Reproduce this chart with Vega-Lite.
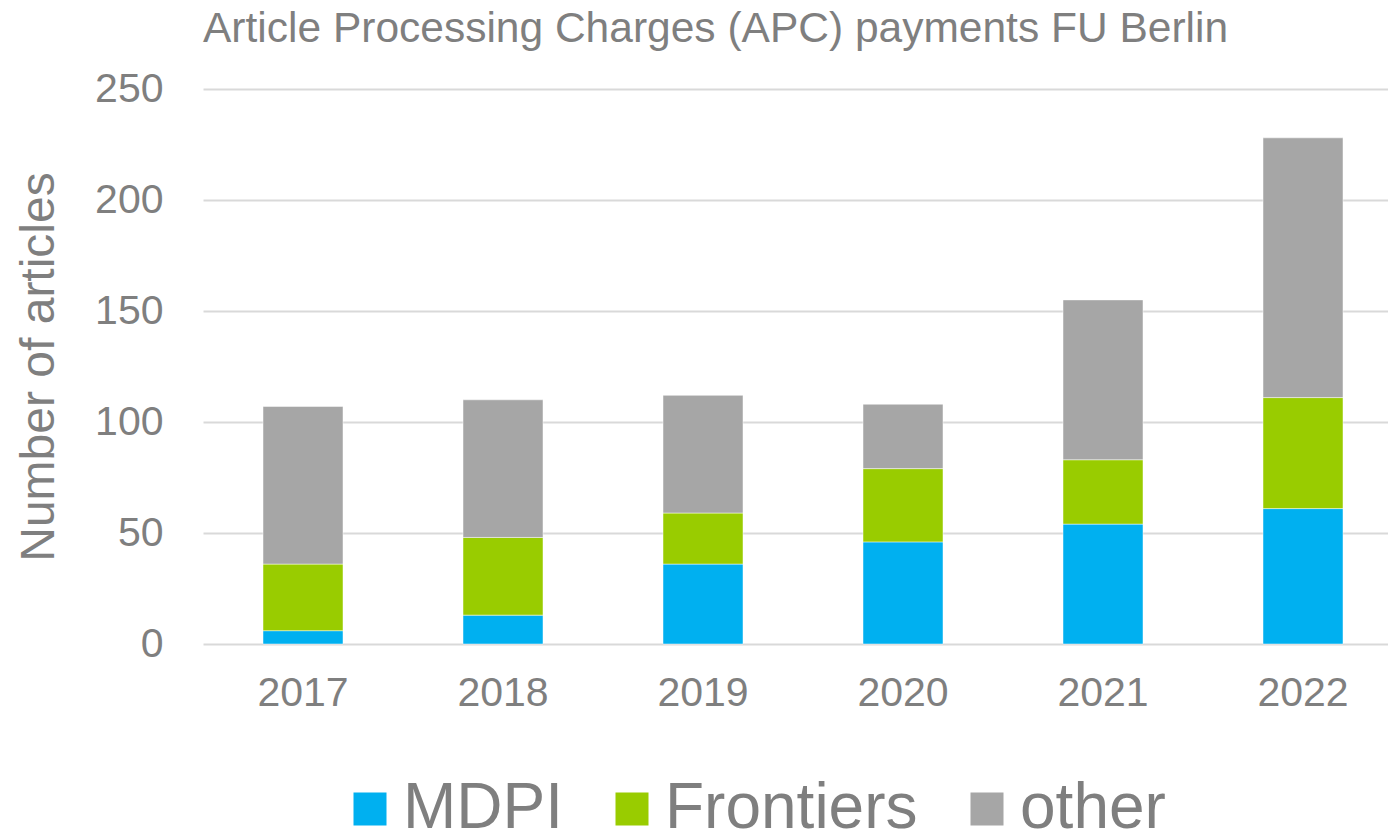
{
  "$schema": "https://vega.github.io/schema/vega-lite/v6.json",
  "autosize": {"type": "none"},
  "padding": {"left": 203, "top": 89, "right": 0, "bottom": 189},
  "width": 1185,
  "height": 555,
  "background": "#ffffff",
  "title": {
    "text": "Article Processing Charges (APC) payments FU Berlin",
    "anchor": "start",
    "frame": "group",
    "offset": 18,
    "font": "Liberation Sans",
    "fontSize": 42.5,
    "fontWeight": "normal",
    "color": "#7f7f7f"
  },
  "data": {
    "values": [
      {"year": "2017", "publisher": "MDPI", "order": 1, "articles": 6},
      {"year": "2017", "publisher": "Frontiers", "order": 2, "articles": 30},
      {"year": "2017", "publisher": "other", "order": 3, "articles": 71},
      {"year": "2018", "publisher": "MDPI", "order": 1, "articles": 13},
      {"year": "2018", "publisher": "Frontiers", "order": 2, "articles": 35},
      {"year": "2018", "publisher": "other", "order": 3, "articles": 62},
      {"year": "2019", "publisher": "MDPI", "order": 1, "articles": 36},
      {"year": "2019", "publisher": "Frontiers", "order": 2, "articles": 23},
      {"year": "2019", "publisher": "other", "order": 3, "articles": 53},
      {"year": "2020", "publisher": "MDPI", "order": 1, "articles": 46},
      {"year": "2020", "publisher": "Frontiers", "order": 2, "articles": 33},
      {"year": "2020", "publisher": "other", "order": 3, "articles": 29},
      {"year": "2021", "publisher": "MDPI", "order": 1, "articles": 54},
      {"year": "2021", "publisher": "Frontiers", "order": 2, "articles": 29},
      {"year": "2021", "publisher": "other", "order": 3, "articles": 72},
      {"year": "2022", "publisher": "MDPI", "order": 1, "articles": 61},
      {"year": "2022", "publisher": "Frontiers", "order": 2, "articles": 50},
      {"year": "2022", "publisher": "other", "order": 3, "articles": 117}
    ]
  },
  "mark": {"type": "bar", "stroke": "#ffffff", "strokeWidth": 0.8, "strokeOpacity": 0.6},
  "encoding": {
    "x": {
      "field": "year",
      "type": "nominal",
      "scale": {"range": [0, 1200], "paddingInner": 0.6, "paddingOuter": 0.3},
      "axis": {
        "title": null,
        "labelAngle": 0,
        "domain": false,
        "ticks": false,
        "labelPadding": 29,
        "labelFont": "Liberation Sans",
        "labelFontSize": 41,
        "labelColor": "#7f7f7f"
      }
    },
    "y": {
      "field": "articles",
      "type": "quantitative",
      "stack": "zero",
      "scale": {"domain": [0, 250], "nice": false},
      "axis": {
        "title": "Number of articles",
        "values": [0, 50, 100, 150, 200, 250],
        "domain": false,
        "ticks": false,
        "labelPadding": 40,
        "labelFont": "Liberation Sans",
        "labelFontSize": 41,
        "labelColor": "#7f7f7f",
        "titleFont": "Liberation Sans",
        "titleFontSize": 48,
        "titleFontWeight": "normal",
        "titleColor": "#7f7f7f",
        "titlePadding": 31,
        "gridColor": "#d9d9d9",
        "gridWidth": 2
      }
    },
    "color": {
      "field": "publisher",
      "type": "nominal",
      "sort": ["MDPI", "Frontiers", "other"],
      "scale": {"domain": ["MDPI", "Frontiers", "other"], "range": ["#00b0f0", "#99cc00", "#a6a6a6"]},
      "legend": {
        "title": null,
        "orient": "none",
        "direction": "horizontal",
        "legendX": 135,
        "legendY": 688,
        "padding": 0,
        "symbolType": "square",
        "symbolSize": 1089,
        "symbolStrokeWidth": 0,
        "labelFont": "Liberation Sans",
        "labelFontSize": 64,
        "labelColor": "#7f7f7f",
        "labelOffset": 1,
        "columnPadding": 37,
        "labelLimit": 500
      }
    },
    "order": {"field": "order", "type": "quantitative"}
  },
  "config": {"view": {"stroke": null}}
}
